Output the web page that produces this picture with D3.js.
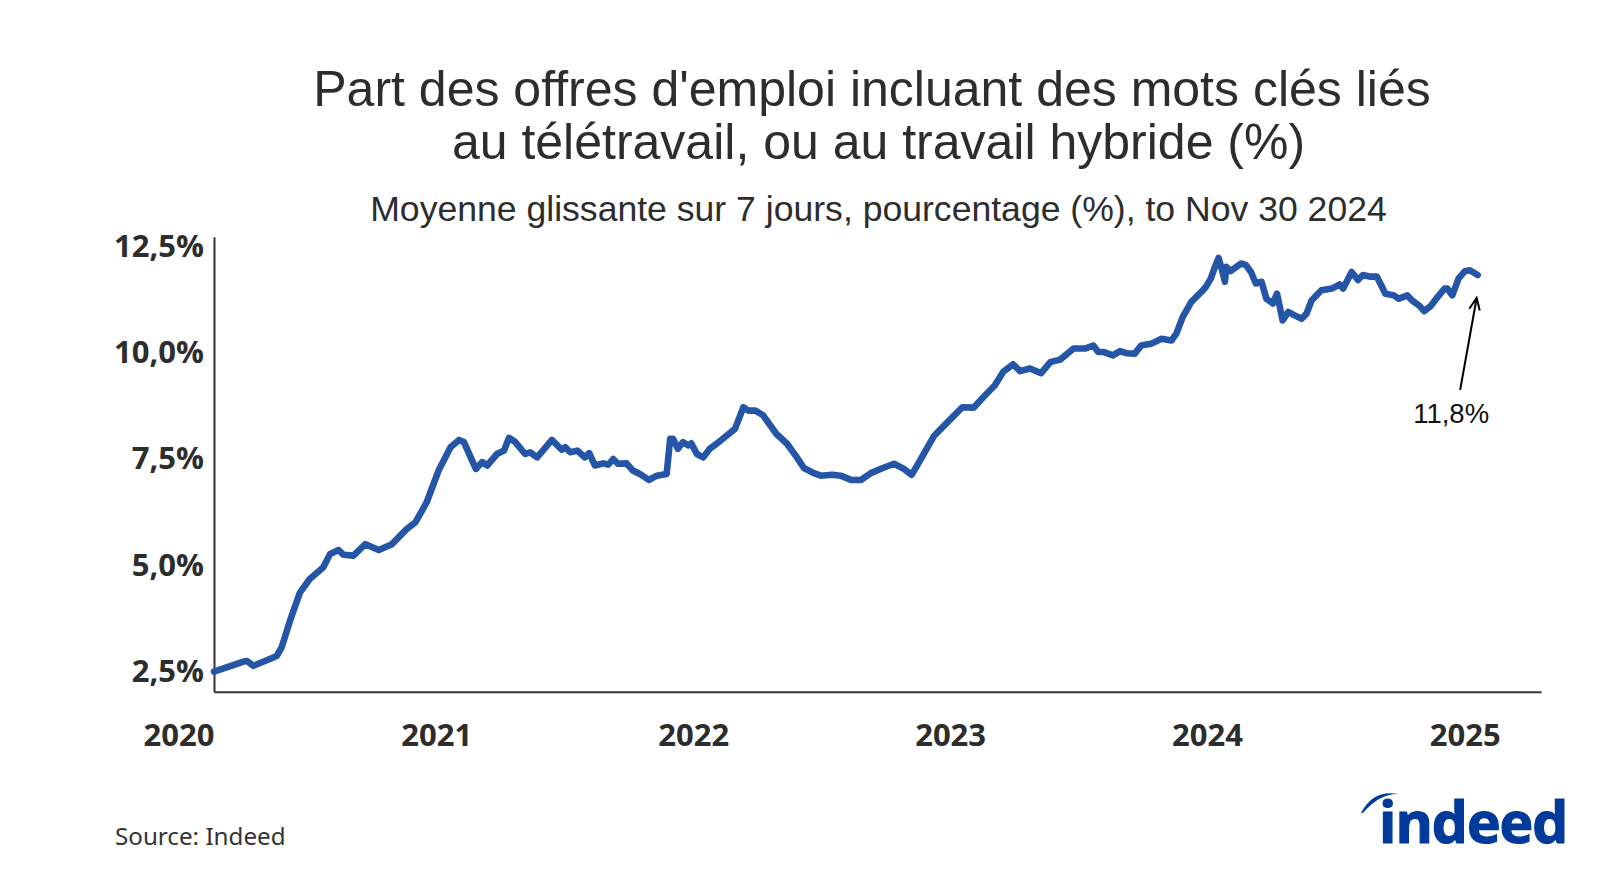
<!DOCTYPE html>
<html>
<head>
<meta charset="utf-8">
<script src="https://cdn.jsdelivr.net/npm/d3@7"></script>
<style>
  html, body { margin: 0; padding: 0; background: #ffffff; }
  svg { display: block; }
</style>
</head>
<body>
<svg id="chart" width="1600" height="873"></svg>
<script>
// ---- Data ----
const dates = [
  "2020-01-01","2020-02-12","2020-02-17","2020-02-26","2020-03-16","2020-03-30","2020-04-06","2020-04-18",
  "2020-05-02","2020-05-16","2020-06-04","2020-06-14","2020-06-26","2020-07-03","2020-07-17","2020-08-03",
  "2020-08-22","2020-09-09","2020-10-01","2020-10-13","2020-10-29","2020-11-08","2020-11-15","2020-12-02",
  "2020-12-14","2020-12-21","2021-01-07","2021-01-16","2021-01-23","2021-02-06","2021-02-16","2021-02-23",
  "2021-03-04","2021-03-18","2021-03-25","2021-04-04","2021-04-25","2021-05-09","2021-05-14","2021-05-21",
  "2021-05-31","2021-06-11","2021-06-17","2021-06-25","2021-07-07","2021-07-14","2021-07-21","2021-07-28",
  "2021-08-09","2021-08-18","2021-08-28","2021-09-10","2021-09-21","2021-10-05","2021-10-10","2021-10-14",
  "2021-10-21","2021-10-28","2021-11-05","2021-11-09","2021-11-17","2021-11-26","2021-12-05","2021-12-15",
  "2021-12-29","2022-01-10","2022-01-22","2022-01-29","2022-02-08","2022-02-19","2022-03-10","2022-03-25",
  "2022-04-08","2022-04-18","2022-05-02","2022-05-12","2022-05-28","2022-06-09","2022-06-24","2022-07-08",
  "2022-07-22","2022-08-08","2022-08-24","2022-09-07","2022-09-18","2022-10-01","2022-10-20","2022-11-08",
  "2022-11-29","2022-12-15","2022-12-29","2023-01-14","2023-01-26","2023-02-09","2023-02-19","2023-03-05",
  "2023-03-21","2023-04-03","2023-04-17","2023-05-06","2023-05-22","2023-06-03","2023-06-10","2023-06-17",
  "2023-07-01","2023-07-11","2023-07-20","2023-08-01","2023-08-10","2023-08-24","2023-09-08","2023-09-22",
  "2023-09-29","2023-10-08","2023-10-20","2023-11-01","2023-11-10","2023-11-17","2023-11-22","2023-11-28",
  "2023-12-03","2023-12-07","2023-12-09","2023-12-15","2023-12-30","2024-01-06","2024-01-13","2024-01-20",
  "2024-01-28","2024-02-04","2024-02-13","2024-02-19","2024-02-23","2024-02-27","2024-03-06","2024-03-15",
  "2024-03-25","2024-04-01","2024-04-08","2024-04-22","2024-05-07","2024-05-18","2024-05-23","2024-06-04",
  "2024-06-13","2024-06-20","2024-07-01","2024-07-10","2024-07-22","2024-08-03","2024-08-10","2024-08-22",
  "2024-08-29","2024-09-08","2024-09-15","2024-09-25","2024-10-04","2024-10-14","2024-10-18","2024-10-25",
  "2024-11-03","2024-11-12","2024-11-19","2024-11-23","2024-11-30"
];
const values = [
  2.47,2.71,2.72,2.61,2.74,2.84,3.04,3.67,
  4.33,4.65,4.92,5.24,5.33,5.22,5.20,5.47,
  5.33,5.46,5.83,5.98,6.45,6.89,7.20,7.75,
  7.92,7.87,7.24,7.40,7.32,7.59,7.67,7.97,
  7.87,7.59,7.63,7.51,7.92,7.69,7.75,7.63,
  7.67,7.51,7.61,7.32,7.37,7.34,7.47,7.36,
  7.37,7.20,7.12,6.98,7.08,7.12,7.95,7.95,
  7.71,7.87,7.79,7.84,7.59,7.51,7.71,7.83,
  8.02,8.18,8.69,8.61,8.61,8.50,8.06,7.83,
  7.51,7.26,7.14,7.08,7.10,7.08,6.98,6.98,
  7.14,7.26,7.36,7.24,7.10,7.47,8.02,8.34,
  8.69,8.68,8.93,9.20,9.52,9.70,9.54,9.60,
  9.49,9.75,9.81,10.07,10.07,10.14,9.99,9.99,
  9.91,10.01,9.96,9.95,10.14,10.18,10.30,10.26,
  10.42,10.81,11.16,11.36,11.52,11.72,11.95,12.20,
  11.91,11.64,11.99,11.89,12.07,12.03,11.87,11.60,
  11.64,11.24,11.13,11.36,11.05,10.73,10.93,10.85,
  10.77,10.89,11.20,11.44,11.48,11.58,11.48,11.87,
  11.68,11.80,11.76,11.76,11.36,11.32,11.24,11.32,
  11.20,11.08,10.95,11.08,11.28,11.48,11.48,11.32,
  11.72,11.89,11.91,11.87,11.80
];
const yTicks = [2.5, 5.0, 7.5, 10.0, 12.5];
const xTickYears = [2020, 2021, 2022, 2023, 2024, 2025];
const titleLines = ["Part des offres d'emploi incluant des mots clés liés", "au télétravail, ou au travail hybride (%)"];
const subtitle = "Moyenne glissante sur 7 jours, pourcentage (%), to Nov 30 2024";
const annotationLabel = "11,8%";
const sourceText = "Source: Indeed";

// ---- Setup ----
const parse = d3.timeParse("%Y-%m-%d");
const series = dates.map((d, i) => ({ date: parse(d), value: values[i] }));

const svg = d3.select("#chart");
const x = d3.scaleTime()
  .domain([new Date(2020, 0, 1), new Date(2025, 1, 28)])
  .range([214, 1541]);
const y = d3.scaleLinear()
  .domain([2.0, 12.7])
  .range([691.7, 236.7]);

const fmt = v => d3.format(".1f")(v).replace(".", ",") + "%";

// Title
const titleX = [872, 878.5];
svg.append("g").selectAll("text").data(titleLines).join("text")
  .attr("x", (d, i) => titleX[i])
  .attr("y", (d, i) => 106 + i * 53)
  .attr("text-anchor", "middle")
  .attr("font-family", "'Liberation Sans', Arial, sans-serif")
  .attr("font-size", 50)
  .attr("fill", "#2d2d2d")
  .text(d => d);

svg.append("text")
  .attr("x", 878.5).attr("y", 221)
  .attr("text-anchor", "middle")
  .attr("font-family", "'Liberation Sans', Arial, sans-serif")
  .attr("font-size", 35.6)
  .attr("fill", "#2d2d2d")
  .text(subtitle);

// Y axis
const yAxis = d3.axisLeft(y).tickValues(yTicks).tickSize(0).tickPadding(10).tickFormat(fmt);
const gy = svg.append("g").attr("transform", "translate(214,0)").call(yAxis);
gy.select(".domain").attr("stroke", "#333").attr("stroke-width", 2);
gy.selectAll("text")
  .attr("font-family", "'Open Sans', 'Noto Sans', sans-serif")
  .attr("font-weight", 700)
  .attr("font-size", 31)
  .attr("fill", "#2d2d2d")
  .attr("dy", "0.36em");

// X axis
const xAxis = d3.axisBottom(x)
  .tickValues(xTickYears.map(yr => new Date(yr, 0, 1)))
  .tickSize(0)
  .tickFormat(d3.timeFormat("%Y"));
const gx = svg.append("g").attr("transform", "translate(0,691.7)").call(xAxis);
gx.select(".domain").attr("stroke", "#333").attr("stroke-width", 2);
gx.selectAll("text")
  .attr("text-anchor", "end")
  .attr("y", 54)
  .attr("dy", 0)
  .attr("font-family", "'Open Sans', 'Noto Sans', sans-serif")
  .attr("font-weight", 700)
  .attr("font-size", 31)
  .attr("fill", "#2d2d2d");

// Line
const line = d3.line().x(d => x(d.date)).y(d => y(d.value)).curve(d3.curveLinear);
svg.append("path")
  .datum(series)
  .attr("d", line)
  .attr("fill", "none")
  .attr("stroke", "#2455a6")
  .attr("stroke-width", 6.6)
  .attr("stroke-linejoin", "round")
  .attr("stroke-linecap", "round");

// Annotation arrow
const last = series[series.length - 1];
const tipX = x(last.date) - 1, tipY = y(last.value) + 23;
const tailX = tipX - 16.5, tailY = tipY + 92;
const ang = Math.atan2(tipY - tailY, tipX - tailX);
const hl = 13, ha = 0.42;
svg.append("line")
  .attr("x1", tailX).attr("y1", tailY).attr("x2", tipX).attr("y2", tipY)
  .attr("stroke", "#000").attr("stroke-width", 2);
svg.append("path")
  .attr("d", `M${tipX - hl * Math.cos(ang - ha)},${tipY - hl * Math.sin(ang - ha)} L${tipX},${tipY} L${tipX - hl * Math.cos(ang + ha)},${tipY - hl * Math.sin(ang + ha)}`)
  .attr("fill", "none").attr("stroke", "#000").attr("stroke-width", 2)
  .attr("stroke-linejoin", "miter");
svg.append("text")
  .attr("x", tailX - 9).attr("y", tailY + 33)
  .attr("text-anchor", "middle")
  .attr("font-family", "'Liberation Sans', Arial, sans-serif")
  .attr("font-size", 27.5)
  .attr("fill", "#111")
  .text(annotationLabel);

// Source
svg.append("text")
  .attr("x", 115).attr("y", 845)
  .attr("font-family", "'Noto Sans', 'Open Sans', sans-serif")
  .attr("font-size", 24.2)
  .attr("fill", "#333")
  .text(sourceText);

// Indeed logo (text + arc)
const logo = svg.append("g");
logo.append("text")
  .attr("x", 1379).attr("y", 843)
  .attr("font-family", "'Open Sans', 'Noto Sans', sans-serif")
  .attr("font-weight", 700)
  .attr("font-size", 57)
  .attr("letter-spacing", -1)
  .attr("fill", "#003a9b")
  .attr("stroke", "#003a9b")
  .attr("stroke-width", 1.2)
  .text("indeed");
logo.append("path")
  .attr("d", "M1361,813 Q1373,789 1399,794 Q1380,793 1363,813 Z")
  .attr("fill", "#003a9b");
</script>
</body>
</html>
